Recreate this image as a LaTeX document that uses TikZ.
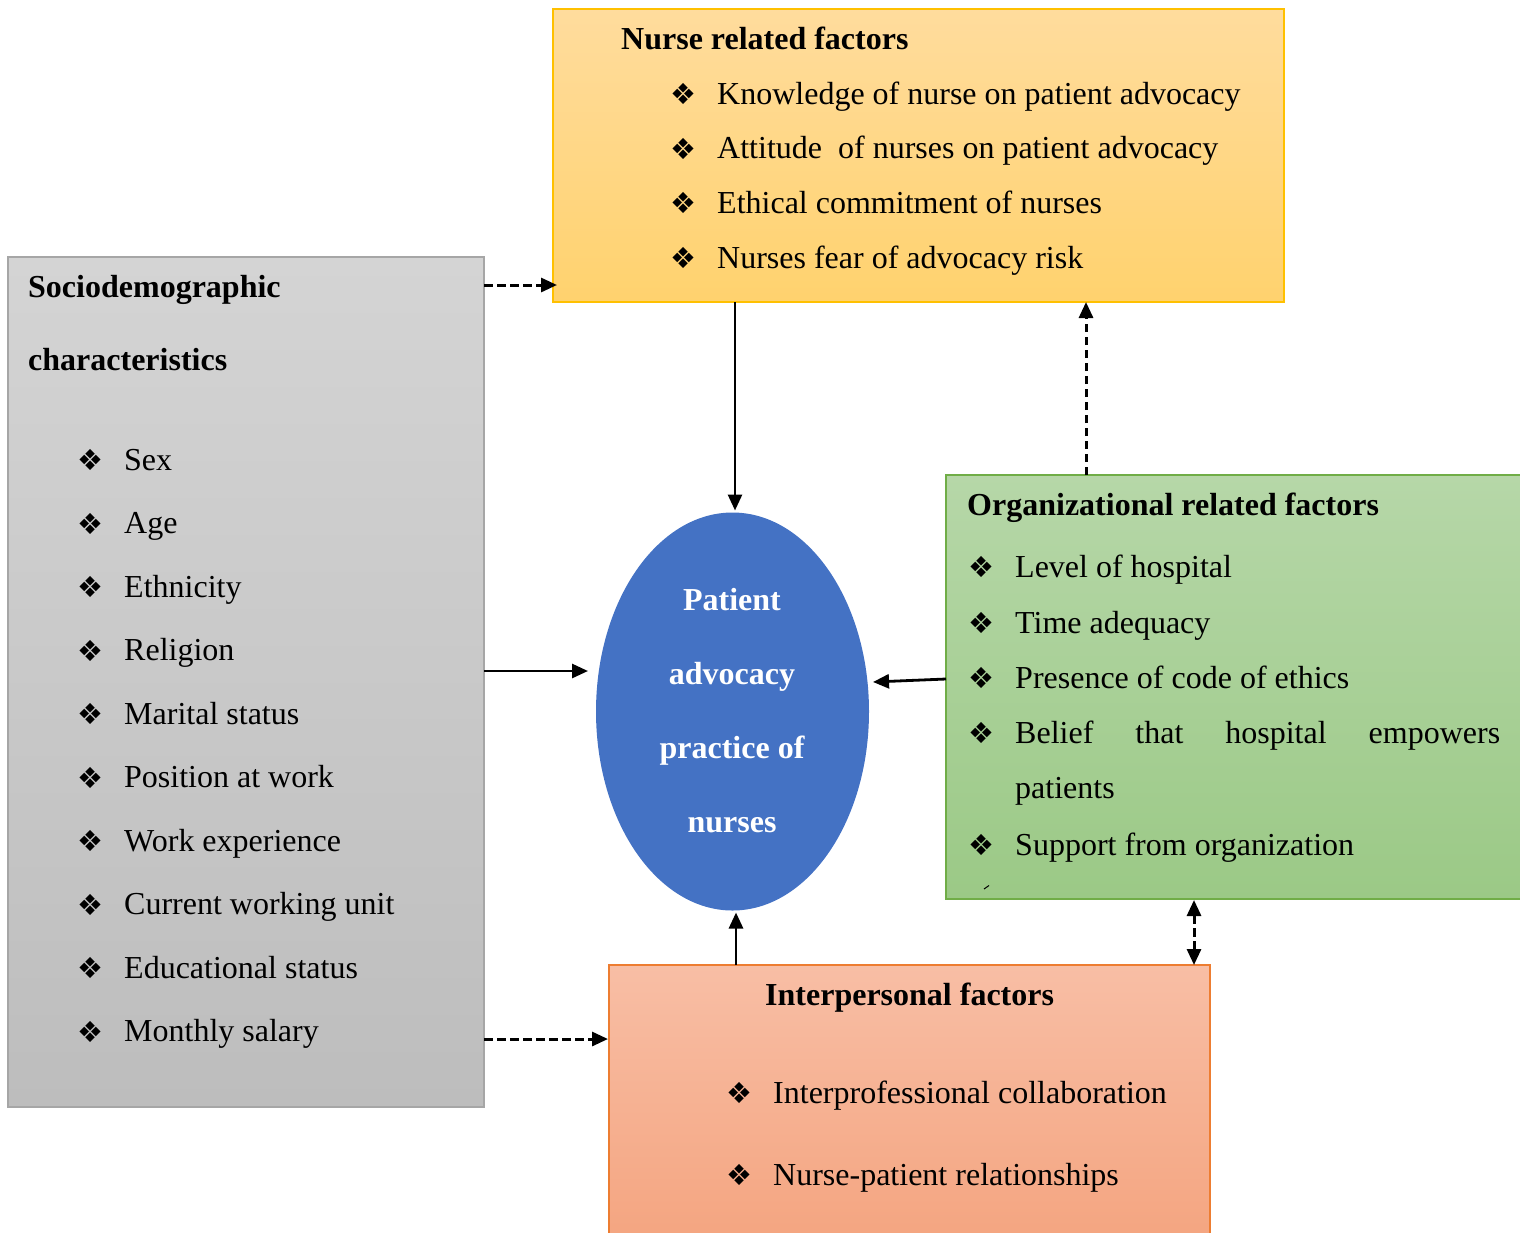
\documentclass[tikz,border=0pt]{standalone}
\usepackage{fontspec}
\setmainfont{Liberation Serif}
\newfontfamily\bulfont{DejaVu Sans}
\usetikzlibrary{shapes.geometric,arrows.meta}
\definecolor{nrtop}{HTML}{FFDC9D}
\definecolor{nrbot}{HTML}{FFD26E}
\definecolor{nrline}{HTML}{FFC000}
\definecolor{sdtop}{HTML}{D4D4D4}
\definecolor{sdbot}{HTML}{BDBDBD}
\definecolor{sdline}{HTML}{A6A6A6}
\definecolor{ortop}{HTML}{B6D7A8}
\definecolor{orbot}{HTML}{9BC986}
\definecolor{orline}{HTML}{70AD47}
\definecolor{iptop}{HTML}{F8BEA5}
\definecolor{ipbot}{HTML}{F4A47F}
\definecolor{ipline}{HTML}{ED7D31}
\definecolor{ellfill}{HTML}{4472C4}
\begin{document}
\begin{tikzpicture}[x=1pt,y=-1pt,
 txt/.style={anchor=base west, inner sep=0pt, font=\fontsize{32}{38}\selectfont},
 ttl/.style={anchor=base west, inner sep=0pt, font=\fontsize{32}{38}\selectfont\bfseries},
 ctext/.style={anchor=base, inner sep=0pt, text=white, font=\fontsize{32}{38}\selectfont\bfseries},
 bul/.style={anchor=center, inner sep=0pt, font=\bulfont\fontsize{29}{29}\selectfont},
 box/.style={rectangle, anchor=north west, inner sep=0pt, outer sep=0pt, line width=1.2pt},
 conn/.style={line width=2.8pt, -{Triangle[length=16pt,width=14pt]}},
 dconn/.style={conn, line width=3pt, dash pattern=on 8.5pt off 4.5pt},
]
\useasboundingbox (0,0) rectangle (1520,1232);
\clip (0,0) rectangle (1520,1232);

% boxes
\node[box, draw=nrline, top color=nrtop, bottom color=nrbot, minimum width=731pt, minimum height=293pt] (nr) at (553,9) {};
\node[box, draw=sdline, top color=sdtop, bottom color=sdbot, minimum width=476pt, minimum height=850pt] (sd) at (8,257) {};
\node[box, draw=orline, top color=ortop, bottom color=orbot, minimum width=576pt, minimum height=424pt] (org) at (946,475) {};
\node[box, draw=ipline, top color=iptop, bottom color=ipbot, minimum width=601pt, minimum height=285pt] (ip) at (609,965) {};
\node[ellipse, fill=ellfill, minimum width=273pt, minimum height=398pt, inner sep=0pt, outer sep=0pt] (pa) at (732.5,711.5) {};

% nurse related factors
\node[ttl] (nrt) at (621,49) {Nurse related factors};
\foreach \t [count=\i from 0] in {Knowledge of nurse on patient advocacy, Attitude\ \ of nurses on patient advocacy, Ethical commitment of nurses, Nurses fear of advocacy risk}{
  \node[bul] (nrb\i) at (683,{94+54.7*\i}) {❖};
  \node[txt] (nri\i) at (717,{104+54.7*\i}) {\t};
}

% sociodemographic
\node[ttl] (sdt1) at (28,297) {Sociodemographic};
\node[ttl] (sdt2) at (28,370) {characteristics};
\foreach \t [count=\i from 0] in {Sex, Age, Ethnicity, Religion, Marital status, Position at work, Work experience, Current working unit, Educational status, Monthly salary}{
  \node[bul] (sdb\i) at (90,{460+63.5*\i}) {❖};
  \node[txt] (sdi\i) at (124,{470+63.5*\i}) {\t};
}

% organizational
\node[ttl] (orgt) at (967,515) {Organizational related factors};
\node[bul] (orgb1) at (981,567) {❖};
\node[txt] (orgi1) at (1015,577) {Level of hospital};
\node[bul] (orgb2) at (981,623) {❖};
\node[txt] (orgi2) at (1015,633) {Time adequacy};
\node[bul] (orgb3) at (981,678) {❖};
\node[txt] (orgi3) at (1015,688) {Presence of code of ethics};
\node[bul] (orgb4) at (981,733) {❖};
\node[txt] (orgi4) at (1015,743) {\makebox[485pt][s]{Belief that hospital empowers}};
\node[txt] (orgi4b) at (1015,798) {patients};
\node[bul] (orgb5) at (981,845) {❖};
\node[txt] (orgi5) at (1015,855) {Support from organization};
\draw[line width=1pt] (984,889) -- (989,885.5);

% interpersonal
\node[ttl] (ipt) at (765,1005) {Interpersonal factors};
\node[bul] (ipb1) at (739,1093) {❖};
\node[txt] (ipi1) at (773,1103) {Interprofessional collaboration};
\node[bul] (ipb2) at (739,1175) {❖};
\node[txt] (ipi2) at (773,1185) {Nurse-patient relationships};

% ellipse text
\node[ctext] (pa1) at (732,610) {Patient};
\node[ctext] (pa2) at (732,684) {advocacy};
\node[ctext] (pa3) at (732,758) {practice of};
\node[ctext] (pa4) at (732,832) {nurses};

% connectors
\coordinate (c1) at (0,285);
\coordinate (c4) at (0,671);
\coordinate (c5a) at (0,679);
\coordinate (c5b) at (0,682);
\coordinate (c7) at (0,1039);
\coordinate (cx1) at (735,0);
\coordinate (cx3) at (1086,0);
\coordinate (cx6) at (736,0);
\coordinate (cx8) at (1194,0);
\draw[dconn] (sd.east |- c1) -- ([xshift=4pt]nr.west |- c1);
\draw[conn] (nr.south -| cx1) -- ([yshift=2pt]pa.north -| cx1);
\draw[dconn] (org.north -| cx3) -- (nr.south -| cx3);
\draw[conn] (sd.east |- c4) -- ([xshift=-8pt]pa.west |- c4);
\draw[conn] (org.west |- c5a) -- ([xshift=4pt]pa.east |- c5b);
\draw[conn] (ip.north -| cx6) -- ([yshift=-2pt]pa.south -| cx6);
\draw[dconn] (sd.east |- c7) -- ([xshift=-1pt]ip.west |- c7);
\draw[dconn, {Triangle[length=16pt,width=14pt]}-{Triangle[length=16pt,width=14pt]}] ([yshift=-1pt]org.south -| cx8) -- (ip.north -| cx8);
\end{tikzpicture}
\end{document}
